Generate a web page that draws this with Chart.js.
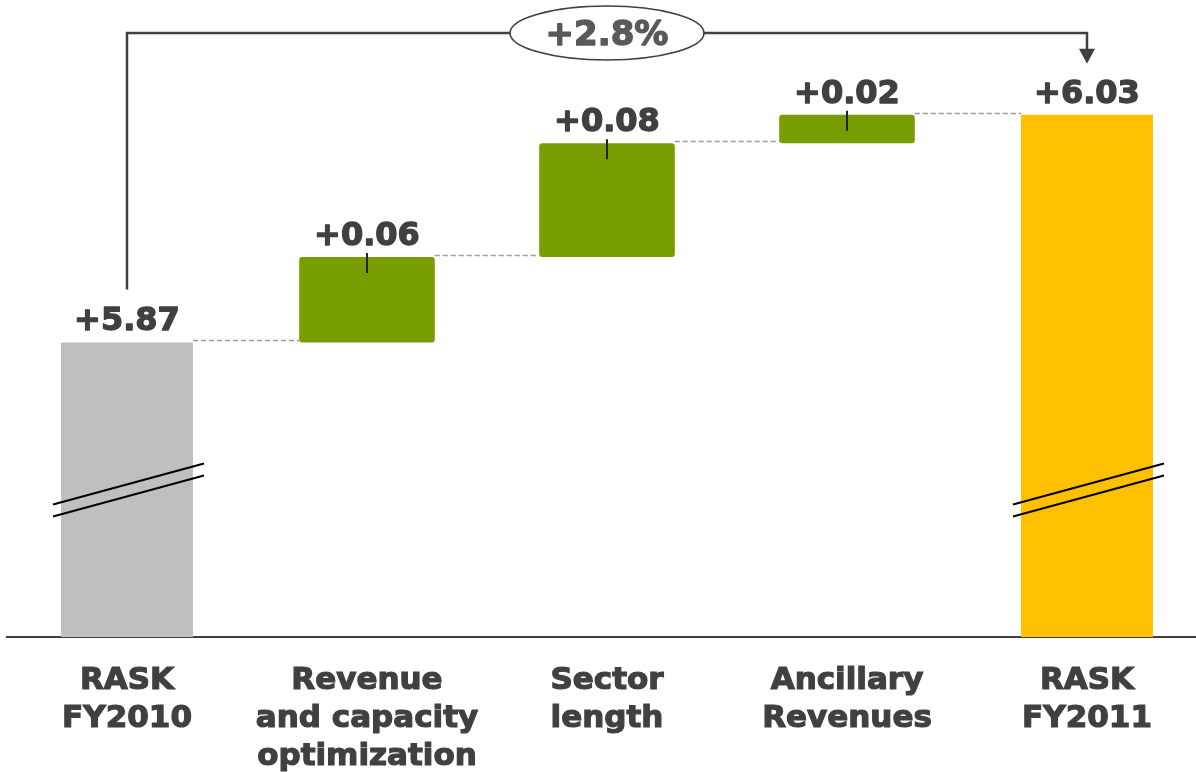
<!DOCTYPE html>
<html>
<head>
<meta charset="utf-8">
<title>RASK FY2010 - FY2011</title>
<script src="https://cdn.jsdelivr.net/npm/chart.js@4.4.1/dist/chart.umd.min.js"></script>
<style>
  html, body { margin: 0; padding: 0; background: #ffffff; overflow: hidden; }
  #chartWrap { width: 1207px; height: 772px; }
</style>
</head>
<body>
<div id="chartWrap"><canvas id="raskChart" width="1207" height="772"></canvas></div>
<script>
// x axis categories (multi-line)
var categories = [
    ["RASK", "FY2010"],
    ["Revenue", "and capacity", "optimization"],
    ["Sector", "length"],
    ["Ancillary", "Revenues"],
    ["RASK", "FY2011"]
];
var startValue = 5.87;              // RASK FY2010
var changes = [0.06, 0.08, 0.02];   // revenue/capacity, sector length, ancillary
var endValue = 6.03;                // RASK FY2011
var growthLabel = "+2.8%";

// running level after each step
var levels = [startValue];
changes.forEach(function (c, i) {
    levels.push(+(levels[i] + c).toFixed(2));
});

var totalData = [startValue, null, null, null, endValue];
var stepData = [null].concat(changes.map(function (c, i) {
    return [levels[i], levels[i + 1]];
}), [null]);
var labelValues = [startValue].concat(changes, [endValue]);

var textColor = "#404040";

function barAt(chart, i) {
    var ds = (i === 0 || i === categories.length - 1) ? 0 : 1;
    return chart.getDatasetMeta(ds).data[i];
}

// bold text with a thin outline so it reads heavier
function heavyText(ctx, text, x, y, color, weight) {
    ctx.fillStyle = color;
    ctx.strokeStyle = color;
    ctx.lineWidth = weight;
    ctx.lineJoin = "round";
    ctx.strokeText(text, x, y);
    ctx.fillText(text, x, y);
}

// connectors, value labels, axis breaks and the growth bracket
var waterfallDecor = {
    id: "waterfallDecor",
    afterDatasetsDraw: function (chart) {
        var ctx = chart.ctx;
        var y = chart.scales.y;
        var n = categories.length;
        ctx.save();

        // dashed connectors between bars
        ctx.strokeStyle = "#9a9a9a";
        ctx.lineWidth = 1.5;
        ctx.setLineDash([5, 3]);
        for (var i = 0; i < n - 1; i++) {
            var a = barAt(chart, i), b = barAt(chart, i + 1);
            var ly = Math.round(y.getPixelForValue(levels[i])) - 1.5;
            ctx.beginPath();
            ctx.moveTo(a.x + a.width / 2, ly);
            ctx.lineTo(b.x - b.width / 2, ly);
            ctx.stroke();
        }
        ctx.setLineDash([]);

        // small marker at the top of each change bar
        ctx.strokeStyle = "#222222";
        ctx.lineWidth = 2;
        for (i = 1; i < n - 1; i++) {
            var el = barAt(chart, i);
            ctx.beginPath();
            ctx.moveTo(el.x, el.y - 4);
            ctx.lineTo(el.x, el.y + 16);
            ctx.stroke();
        }

        // value labels
        ctx.font = "bold 32px 'DejaVu Sans'";
        ctx.textAlign = "center";
        ctx.textBaseline = "alphabetic";
        for (i = 0; i < n; i++) {
            var bar = barAt(chart, i);
            heavyText(ctx, "+" + labelValues[i].toFixed(2), bar.x, bar.y - 12, textColor, 1.3);
        }

        // axis break marks on the two total bars
        var m = y.getPixelForValue(5.766);
        ctx.strokeStyle = "#000000";
        ctx.lineWidth = 2;
        [0, n - 1].forEach(function (idx) {
            var t = barAt(chart, idx);
            var l = t.x - t.width / 2 - 8, r = t.x + t.width / 2 + 11;
            ctx.beginPath();
            ctx.moveTo(l, m + 14);
            ctx.lineTo(r, m - 27);
            ctx.moveTo(l, m + 26);
            ctx.lineTo(r, m - 15);
            ctx.stroke();
        });

        // growth bracket from the first total to the last
        var first = barAt(chart, 0), last = barAt(chart, n - 1);
        var topY = chart.chartArea.top + 33;
        var tipY = last.y - 51;
        var cx = (first.x + last.x) / 2;
        ctx.strokeStyle = textColor;
        ctx.lineWidth = 2.5;
        ctx.lineJoin = "miter";
        ctx.beginPath();
        ctx.moveTo(first.x, first.y - 53);
        ctx.lineTo(first.x, topY);
        ctx.lineTo(last.x, topY);
        ctx.lineTo(last.x, tipY - 12);
        ctx.stroke();
        ctx.fillStyle = textColor;
        ctx.beginPath();
        ctx.moveTo(last.x - 8, tipY - 15);
        ctx.lineTo(last.x + 8, tipY - 15);
        ctx.lineTo(last.x, tipY);
        ctx.closePath();
        ctx.fill();

        ctx.beginPath();
        ctx.ellipse(cx, topY, 97, 27, 0, 0, Math.PI * 2);
        ctx.fillStyle = "#ffffff";
        ctx.fill();
        ctx.lineWidth = 1.6;
        ctx.stroke();
        ctx.font = "bold 34px 'DejaVu Sans'";
        heavyText(ctx, growthLabel, cx, topY + 12, "#595959", 1.4);

        ctx.restore();
    }
};

var chrt = document.getElementById("raskChart").getContext("2d");
var raskChart = new Chart(chrt, {
    type: "bar",
    data: {
        labels: categories,
        datasets: [
            {
                label: "RASK",
                data: totalData,
                backgroundColor: ["#bfbfbf", null, null, null, "#ffc000"],
                barPercentage: 0.55,
                categoryPercentage: 1,
                grouped: false
            },
            {
                label: "Change",
                data: stepData,
                backgroundColor: "#789d00",
                borderRadius: 3,
                borderSkipped: false,
                barPercentage: 0.565,
                categoryPercentage: 1,
                grouped: false
            }
        ]
    },
    options: {
        responsive: false,
        animation: false,
        layout: { padding: { left: 7, right: 0, top: 0, bottom: 0 } },
        plugins: {
            legend: { display: false },
            tooltip: { enabled: false }
        },
        scales: {
            x: {
                grid: { display: false, drawTicks: false },
                border: { display: true, color: "#404040", width: 2 },
                ticks: {
                    color: textColor,
                    textStrokeColor: textColor,
                    textStrokeWidth: 1.2,
                    font: { family: "'DejaVu Sans'", size: 31, weight: "bold", lineHeight: 1.22 },
                    padding: 25,
                    autoSkip: false,
                    maxRotation: 0
                },
                afterFit: function (scale) {
                    scale.height = 135;
                }
            },
            y: {
                display: false,
                min: 5.663,
                max: 6.1107
            }
        }
    },
    plugins: [waterfallDecor]
});
</script>
</body>
</html>
